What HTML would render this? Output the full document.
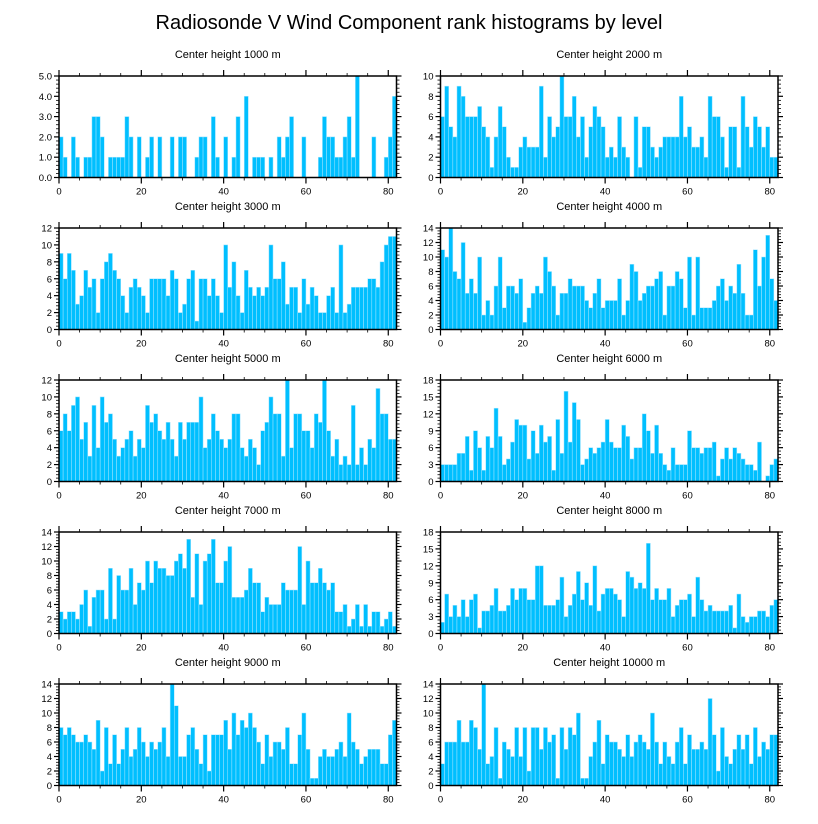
<!DOCTYPE html>
<html><head><meta charset="utf-8"><style>
body{margin:0;background:#fff;}
svg{display:block;font-family:"Liberation Sans",sans-serif;}
</style></head><body>
<svg id="chart" width="818" height="824" viewBox="0 0 818 824">
<text x="409" y="29" font-size="20" text-anchor="middle">Radiosonde V Wind Component rank histograms by level</text>
</svg>
<script>
const titles=["Center height 1000 m","Center height 2000 m","Center height 3000 m","Center height 4000 m","Center height 5000 m","Center height 6000 m","Center height 7000 m","Center height 8000 m","Center height 9000 m","Center height 10000 m"];
const yMax=[5,10,12,14,12,18,14,18,14,14];
const yStep=[1,2,2,2,2,3,2,3,2,2];
const xTicks=[0,20,40,60,80];
const h1000=[2,1,0,2,1,0,1,1,3,3,2,0,1,1,1,1,3,2,0,2,0,1,2,0,2,0,0,2,0,2,2,0,0,1,2,2,0,3,1,0,2,0,1,3,0,4,0,1,1,1,0,1,0,2,1,2,3,0,0,2,0,0,0,1,3,2,2,1,1,2,3,1,5,0,0,0,2,0,0,1,2,4];
const h2000=[6,9,5,4,9,8,6,6,6,7,5,4,1,4,7,5,2,1,1,3,4,3,3,3,9,2,6,4,5,10,6,6,8,4,6,2,5,7,6,5,2,3,2,6,3,2,0,6,1,5,5,3,2,3,4,4,4,4,8,4,5,3,3,4,2,8,6,6,4,1,5,5,1,8,5,3,6,5,3,5,2,2];
const h3000=[9,6,9,7,3,4,7,5,6,2,6,8,9,7,6,4,2,5,6,5,4,2,6,6,6,6,4,7,6,2,3,6,7,1,6,6,4,6,4,2,10,5,8,4,2,7,5,4,5,4,5,10,6,6,8,3,5,5,2,6,3,5,4,2,2,4,5,2,10,2,3,5,5,5,5,6,6,5,8,10,11,11];
const h4000=[11,10,14,8,7,12,5,7,5,10,2,4,2,6,10,3,6,6,5,7,1,3,5,6,5,10,8,6,2,5,5,7,6,6,6,4,3,5,7,3,4,4,4,7,2,4,9,8,4,5,6,6,7,8,2,6,6,8,7,3,10,2,10,3,3,3,4,6,7,4,6,5,9,5,2,2,11,6,10,13,7,4];
const h5000=[6,8,6,9,10,5,7,3,9,4,10,7,8,5,3,4,5,6,3,5,4,9,7,8,6,5,7,5,3,7,5,7,7,7,10,4,5,8,6,5,4,5,8,8,4,3,5,4,2,6,7,10,8,8,3,12,4,8,8,6,6,4,8,7,12,6,3,5,2,3,2,9,2,4,2,5,4,11,8,8,5,5];
const h6000=[3,3,3,3,5,5,8,2,9,6,2,8,6,13,8,3,4,7,11,10,10,4,9,5,10,7,8,2,11,5,16,7,14,11,3,4,6,5,6,7,11,7,6,6,10,8,4,6,6,12,9,5,10,5,3,2,6,3,3,3,9,6,6,5,6,6,7,1,4,6,4,6,5,4,3,3,2,7,0,1,3,4];
const h7000=[3,2,3,3,2,4,6,1,5,6,6,2,9,2,8,6,6,9,4,7,6,10,7,10,9,9,8,8,10,11,9,13,5,11,4,10,11,13,7,7,10,12,5,5,5,6,9,7,7,3,5,4,4,4,7,6,6,6,12,4,10,7,7,9,7,6,7,3,3,4,1,2,4,1,4,1,3,3,1,2,3,1];
const h8000=[2,7,3,5,3,6,3,6,7,1,4,4,5,8,4,4,5,8,6,8,8,6,6,12,12,5,5,5,6,10,3,5,7,11,6,9,5,12,4,7,8,8,7,6,3,11,10,8,9,8,16,6,8,6,6,8,3,5,6,6,7,3,10,6,4,5,4,4,4,4,5,1,7,3,2,3,3,4,4,3,5,6];
const h9000=[8,7,8,7,6,6,7,6,5,9,2,8,3,7,3,5,8,4,5,8,6,4,6,5,6,8,4,14,11,4,4,7,8,5,3,7,2,7,7,7,9,5,10,7,9,8,10,8,6,3,7,4,6,6,5,8,3,3,7,10,5,1,1,4,5,4,4,5,6,4,10,6,5,3,4,5,5,5,3,3,7,9];
const h10000=[3,6,6,6,9,6,6,9,8,5,14,3,4,8,1,6,5,4,8,4,8,2,8,8,5,8,6,7,1,8,5,8,7,10,1,1,4,6,9,3,7,6,6,5,4,7,4,6,7,6,5,10,6,3,6,4,3,6,8,3,7,5,5,6,5,12,7,2,8,4,3,5,7,5,7,3,8,4,6,5,7,7];
const series=[h1000,h2000,h3000,h4000,h5000,h6000,h7000,h8000,h9000,h10000];

const NS="http://www.w3.org/2000/svg";
const svg=document.getElementById('chart');
function mk(tag,attrs,parent){const e=document.createElementNS(NS,tag);for(const k in attrs)e.setAttribute(k,attrs[k]);parent.appendChild(e);return e;}
const PW=337.5, PH=101.5, XMAX=82;
for(let p=0;p<10;p++){
  const col=p%2,row=Math.floor(p/2);
  const L=col?440.5:59, T=76+row*152;
  const g=mk('g',{},svg);
  
  
  const xs=v=>L+v/XMAX*PW, ys=v=>T+PH-v/yMax[p]*PH;
  const t=mk('text',{x:L+PW/2,y:T-18,'font-size':11,'text-anchor':'middle'},g);
  t.textContent=titles[p];
  
  
  const d=series[p];
  d.forEach((v,i)=>{
    if(v<=0)return;
    const r=mk('rect',{x:xs(i),y:ys(v),width:xs(i+1)-xs(i),height:ys(0)-ys(v),fill:'#00bfff',stroke:'#a8e6ff','stroke-width':0.5},g);
    
    
  });
  // y ticks
  const minorY=yStep[p]/5;
  for(let k=0;k<=Math.round(yMax[p]/minorY);k++){
    const v=k*minorY, y=ys(v), major=(k%5===0);
    const len=major?5:3;
    mk('line',{x1:L-len,x2:L,y1:y,y2:y,stroke:'#000','stroke-width':major?1.2:0.8},g);
    mk('line',{x1:L+PW,x2:L+PW+len,y1:y,y2:y,stroke:'#000','stroke-width':major?1.2:0.8},g);
    if(major){
      const lb=mk('text',{x:L-7,y:y+3.5,'font-size':9.5,'text-anchor':'end'},g);
      lb.textContent=p===0?v.toFixed(1):String(Math.round(v));
      
      
    }
  }
  // x ticks
  for(let v=0;v<=XMAX;v+=5){
    const x=xs(v), major=(v%20===0), len=major?6:3;
    mk('line',{x1:x,x2:x,y1:T+PH,y2:T+PH+len,stroke:'#000','stroke-width':major?1.2:0.8},g);
    mk('line',{x1:x,x2:x,y1:T-len,y2:T,stroke:'#000','stroke-width':major?1.2:0.8},g);
  }
  xTicks.forEach(v=>{
    const lb=mk('text',{x:xs(v),y:T+PH+17,'font-size':9.5,'text-anchor':'middle'},g);
    lb.textContent=String(v);
    
    
  });
  const fr=mk('rect',{x:L,y:T,width:PW,height:PH,fill:'none',stroke:'#000','stroke-width':1.5},g);
  
  
}
</script>
</body></html>
